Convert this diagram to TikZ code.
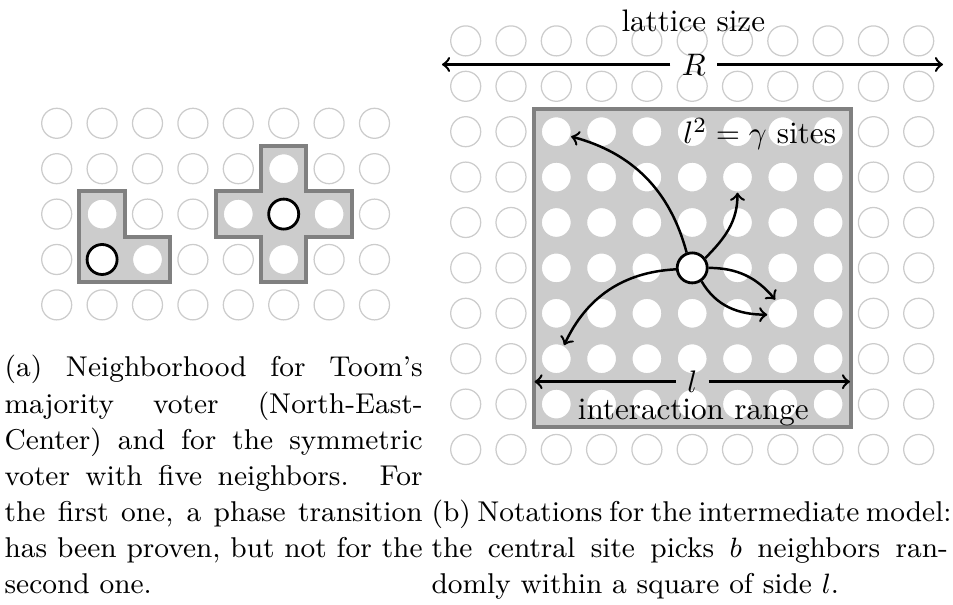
\documentclass[tikz,border=0pt]{standalone}
\usepackage{tikz}
\begin{document}
\begin{tikzpicture}[x=0.3215pt,y=-0.3215pt,
  site/.style={circle,minimum size=9.65pt,inner sep=0pt,fill=white,draw=black!20,line width=0.4pt},
  ctrsite/.style={circle,minimum size=9.65pt,inner sep=0pt,fill=white,draw=black,line width=0.9pt},
  nbhd/.style={fill=black!20,draw=black!50,line width=1.3pt},
  arr/.style={->,line width=0.8pt},
  dimlabel/.style={inner xsep=3.5pt,inner ysep=0.3pt},
  caplinea/.style={anchor=base west,inner sep=0pt,font=\fontsize{9.2}{11}\selectfont},
]
\useasboundingbox (0,0) rectangle (953,605);

% neighbourhood shapes (left)
\draw[nbhd] (79.4,191.4) -- (124.8,191.4) -- (124.8,236.8) -- (170.2,236.8)
  -- (170.2,282.2) -- (79.4,282.2) -- cycle;
\draw[nbhd] (261.0,146.0) -- (306.4,146.0) -- (306.4,191.4) -- (351.8,191.4)
  -- (351.8,236.8) -- (306.4,236.8) -- (306.4,282.2) -- (261.0,282.2)
  -- (261.0,236.8) -- (215.6,236.8) -- (215.6,191.4) -- (261.0,191.4) -- cycle;
% interaction square (right)
\draw[nbhd] (533.65,109.0) rectangle (850.75,426.8);

% left lattice
\foreach \c in {0,...,7}{
  \foreach \r in {0,...,4}{
    \node[site] (A-\r-\c) at ({56.7+45.4*\c},{123.3+45.4*\r}) {};
  }
}
% right lattice
\foreach \c in {0,...,10}{
  \foreach \r in {0,...,9}{
    \node[site] (B-\r-\c) at ({465.7+45.3*\c},{40.9+45.4*\r}) {};
  }
}

% central sites
\node[ctrsite] (c1) at (A-3-1.center) {};
\node[ctrsite] (c2) at (A-2-5.center) {};
\node[ctrsite] (c3) at (B-5-5.center) {};

% random neighbours
\draw[arr] (c3.110) to[out=105,in=-15] (B-2-2.-18);
\draw[arr] (c3.37) to[out=45,in=-90] (B-3-6.south);
\draw[arr] (c3.185) to[out=183,in=65] (B-7-2.60);
\draw[arr] (c3.east) to[out=0,in=130] (B-6-7.119);
\draw[arr] (c3.-55) to[out=-60,in=180] (B-6-7.185);

% labels
\node[anchor=base] (lat) at (693.3,31.5) {lattice size};
\node[dimlabel] (Rl) at (693.7,64.5) {$R$};
\coordinate (Rw) at (442,64.5);
\coordinate (Re) at (943,64.5);
\draw[arr] (Rl) -- (Rw);
\draw[arr] (Rl) -- (Re);

\node[anchor=base east] (gam) at (847,144) {$l^2=\gamma$ sites};

\node[dimlabel] (ll) at (692.2,381.7) {$l$};
\coordinate (lw) at (534.5,381.7);
\coordinate (le) at (850,381.7);
\draw[arr] (ll) -- (lw);
\draw[arr] (ll) -- (le);
\node[anchor=base,inner ysep=0.3pt] (ir) at (693.3,420) {interaction range};

% captions
\node[caplinea] (a1) at (4,377.0) {\makebox[134.4pt][s]{(a) Neighborhood for Toom's}};
\node[caplinea] (a2) at (4,413.1) {\makebox[134.4pt][s]{majority voter (North-East-}};
\node[caplinea] (a3) at (4,449.2) {\makebox[134.4pt][s]{Center) and for the symmetric}};
\node[caplinea] (a4) at (4,485.3) {\makebox[134.4pt][s]{voter with five neighbors.\ \ For}};
\node[caplinea] (a5) at (4,521.4) {\makebox[134.4pt][s]{the first one, a phase transition}};
\node[caplinea] (a6) at (4,557.5) {\makebox[134.4pt][s]{has been proven, but not for the}};
\node[caplinea] (a7) at (4,593.6) {second one.};

\node[caplinea] (b1) at (431,521.4) {\makebox[166pt][s]{(b) Notations for the intermediate model:}};
\node[caplinea] (b2) at (431,557.5) {\makebox[166pt][s]{the central site picks $b$ neighbors ran-}};
\node[caplinea] (b3) at (431,593.6) {domly within a square of side $l$.};
\end{tikzpicture}
\end{document}
